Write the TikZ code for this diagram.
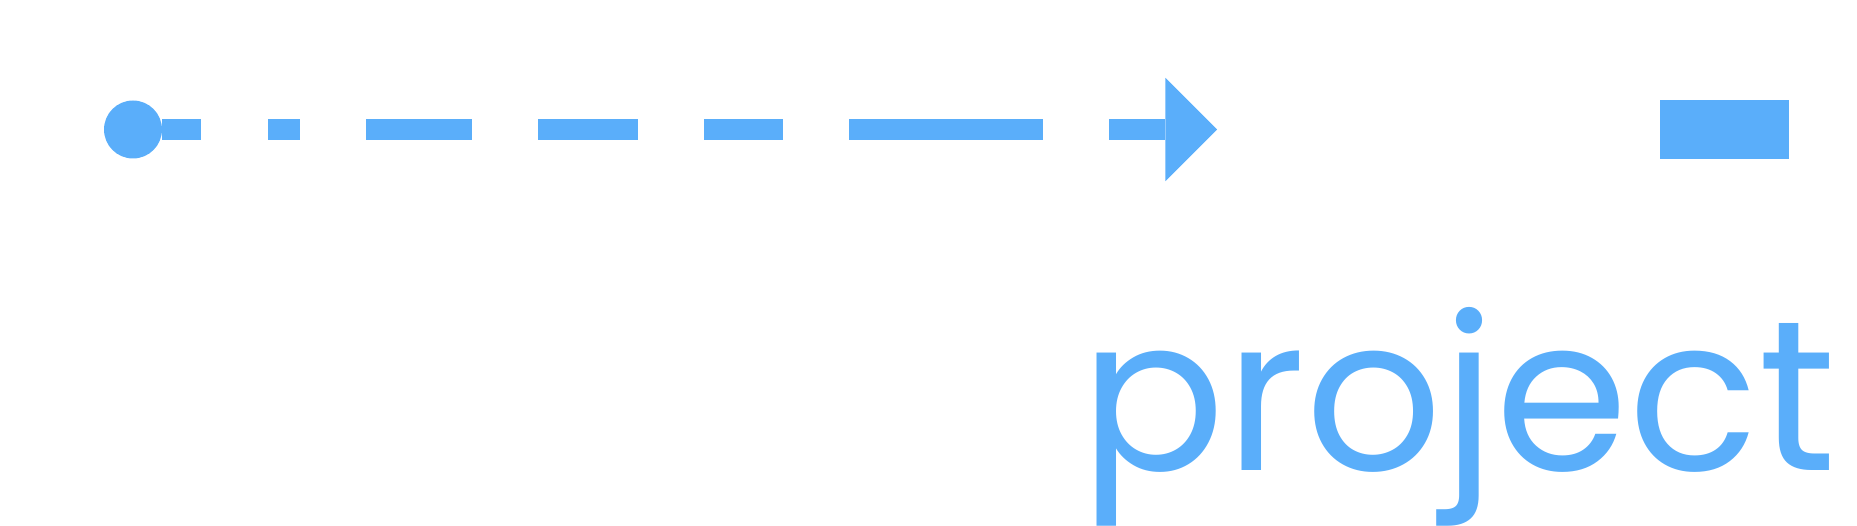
\documentclass[tikz,border=0pt]{standalone}
\usepackage{fontspec}
\setmainfont{Poppins}
\usetikzlibrary{arrows.meta}

\definecolor{skyblue}{HTML}{5AAEFA}

\tikzset{
	dotnode/.style={circle, fill=skyblue, minimum size=1.16cm, inner sep=0pt},
	boxnode/.style={rectangle, fill=skyblue, minimum width=2.58cm, minimum height=1.18cm, inner sep=0pt},
	wordnode/.style={text=skyblue, inner sep=0pt, text depth=0.98cm, font=\fontsize{122pt}{124pt}\selectfont},
	flowline/.style={skyblue, line width=0.42cm,
		dash pattern=on 0.78cm off 1.34cm on 0.64cm off 1.32cm on 2.12cm off 1.32cm on 2cm off 1.32cm on 1.58cm off 1.32cm on 3.88cm off 1.32cm on 4cm off 1cm,
		-{Triangle[length=1.034cm, width=2.07cm, line width=0pt]}}
}

\begin{document}
\begin{tikzpicture}[x=0.02cm, y=-0.02cm]

	\useasboundingbox (0, 0) rectangle (1857, 526);

	\node [dotnode] (dot) at (133, 129.5) {};
	\coordinate (tip) at (1217, 129.5);
	\node [boxnode] (box) at (1724.5, 129.5) {};

	\draw [flowline] (dot) -- (tip);

	\node [wordnode, anchor=base west] (word) at (1080, 471) {project};

\end{tikzpicture}
\end{document}
